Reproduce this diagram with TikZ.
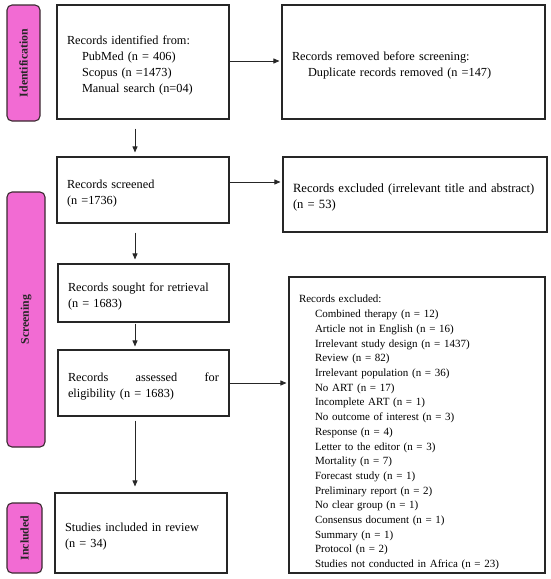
\documentclass[tikz,border=0pt]{standalone}
\usepackage{fontspec}
\setmainfont{Liberation Serif}
\usetikzlibrary{arrows.meta}
\definecolor{stagepink}{HTML}{F26BD3}
\definecolor{stageedge}{HTML}{3A2A30}
\tikzset{
  box/.style={draw=black!85, line width=1.1pt, rectangle, inner xsep=10pt, inner ysep=0pt,
    align=left, font=\fontsize{12.3}{15.8}\selectfont,
    execute at begin node={\rule{0pt}{15.5pt}}},
  stage/.style={draw=stageedge, fill=stagepink, line width=1.1pt, rounded corners=5pt,
    inner sep=0pt},
  stagetext/.style={rotate=90, font=\fontsize{11.8}{13}\selectfont\bfseries, text=black!85},
  arr/.style={-{Triangle[length=6pt,width=5pt]}, line width=0.8pt, draw=black!85}
}
\newcommand{\boxat}[6]{% name, cx, cy, w, h, text
  \node[box, minimum width=#4pt, minimum height=#5pt, text width=\dimexpr#4pt-20pt\relax] (#1) at (#2pt,-#3pt) {#6};}
\begin{document}
\begin{tikzpicture}
\useasboundingbox (0,0) rectangle (550pt,-579pt);
% stage labels
\node[stage, minimum width=33pt, minimum height=116pt] (sid) at (23.5pt,-63pt) {};
\node[stagetext] (tid) at (sid.center) {Identification};
\node[stage, minimum width=38pt, minimum height=255pt] (ssc) at (26pt,-319.5pt) {};
\node[stagetext] (tsc) at (ssc.center) {Screening};
\node[stage, minimum width=35pt, minimum height=70pt] (sin) at (24.5pt,-538pt) {};
\node[stagetext] (tin) at (sin.center) {Included};
% main column
\boxat{b1}{143}{62}{172}{114}{Records identified from:\\\hspace*{15pt}PubMed (n = 406)\\\hspace*{15pt}Scopus (n =1473)\\\hspace*{15pt}Manual search (n=04)}
\boxat{b2}{143}{190}{172}{66}{Records screened\\(n =1736)}
\boxat{b3}{143.5}{293}{171}{58}{Records sought for retrieval\\(n = 1683)}
\boxat{b4}{143.5}{383}{171}{66}{\makebox[151pt][s]{Records\hfill assessed\hfill for}\\eligibility (n = 1683)}
\boxat{b5}{141}{533}{172}{80}{Studies included in review\\(n = 34)}
% right column
\boxat{r1}{413.5}{62}{263}{114}{Records removed before screening:\\\hspace*{16pt}Duplicate records removed (n =147)}
\node[box, minimum width=264pt, minimum height=75pt, text width=244pt,
  font=\fontsize{12.6}{16}\selectfont] (r2) at (415pt,-194.5pt) {Records excluded (irrelevant title and abstract)\\(n = 53)};
\node[box, minimum width=256pt, minimum height=296pt, text width=236pt,
  font=\fontsize{11}{14.7}\selectfont] (r3) at (417pt,-425pt) {\rule{0pt}{22pt}Records excluded:\\[1pt]
\hspace*{16pt}Combined therapy (n = 12)\\
\hspace*{16pt}Article not in English (n = 16)\\
\hspace*{16pt}Irrelevant study design (n = 1437)\\
\hspace*{16pt}Review (n = 82)\\
\hspace*{16pt}Irrelevant population (n = 36)\\
\hspace*{16pt}No ART (n = 17)\\
\hspace*{16pt}Incomplete ART (n = 1)\\
\hspace*{16pt}No outcome of interest (n = 3)\\
\hspace*{16pt}Response (n = 4)\\
\hspace*{16pt}Letter to the editor (n = 3)\\
\hspace*{16pt}Mortality (n = 7)\\
\hspace*{16pt}Forecast study (n = 1)\\
\hspace*{16pt}Preliminary report (n = 2)\\
\hspace*{16pt}No clear group (n = 1)\\
\hspace*{16pt}Consensus document (n = 1)\\
\hspace*{16pt}Summary (n = 1)\\
\hspace*{16pt}Protocol (n = 2)\\
\hspace*{16pt}Studies not conducted in Africa (n = 23)};
% connectors
\coordinate (axis) at (135pt,0);
\draw[arr, shorten <=9pt, shorten >=4pt] (b1.south -| axis) -- (b2.north -| axis);
\draw[arr, shorten <=9pt, shorten >=4pt] (b2.south -| axis) -- (b3.north -| axis);
\draw[arr, shorten <=1pt, shorten >=3pt] (b3.south -| axis) -- (b4.north -| axis);
\draw[arr, shorten <=4pt, shorten >=6pt] (b4.south -| axis) -- (b5.north -| axis);
\draw[arr, shorten >=2pt] ([yshift=1pt]b1.east) -- ([yshift=1pt]b1.east -| r1.west);
\draw[arr, shorten >=2pt] ([yshift=8pt]b2.east) -- ([yshift=8pt]b2.east -| r2.west);
\draw[arr, shorten >=2pt] (b4.east) -- (b4.east -| r3.west);
\end{tikzpicture}
\end{document}
